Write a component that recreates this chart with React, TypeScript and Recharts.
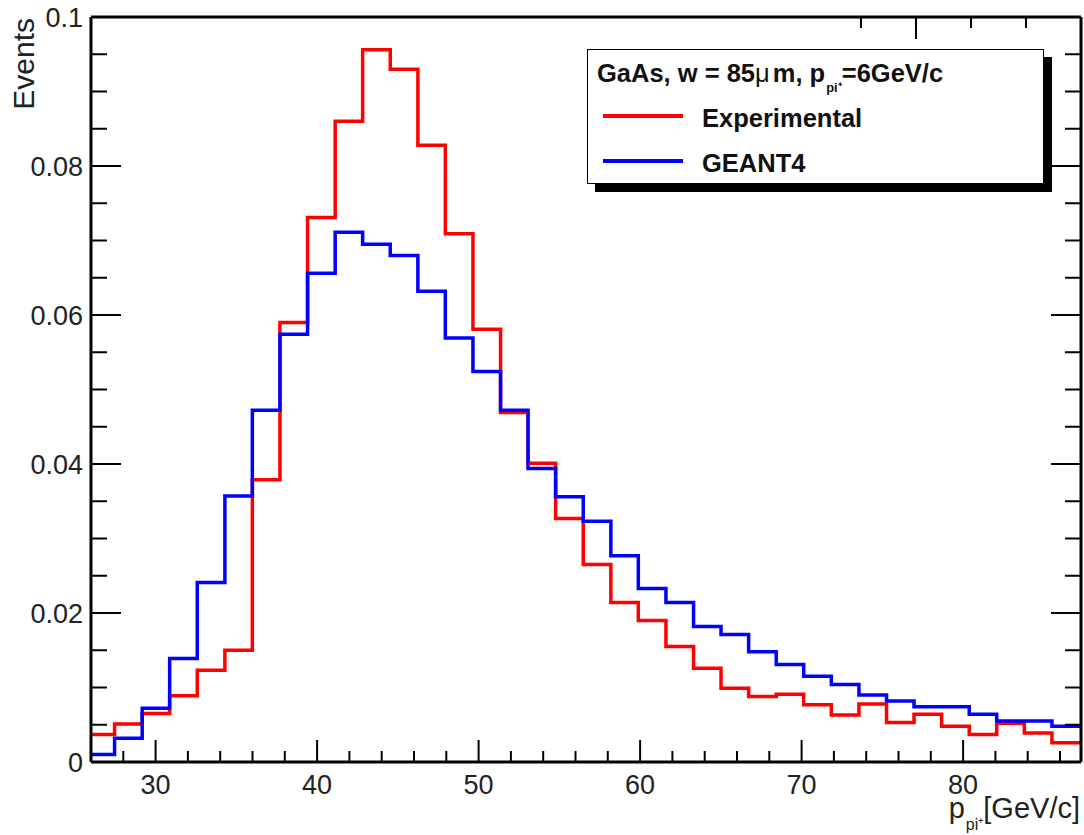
import React from 'react';
import { LineChart, Line, XAxis, YAxis, Legend } from 'recharts';

const binLowEdges = [
  26, 27.46, 29.17, 30.87, 32.58, 34.29, 35.99, 37.7, 39.41, 41.12, 42.82, 44.53,
  46.24, 47.94, 49.65, 51.36, 53.06, 54.77, 56.48, 58.19, 59.89, 61.6, 63.31, 65.01,
  66.72, 68.43, 70.13, 71.84, 73.55, 75.26, 76.96, 78.67, 80.38, 82.08, 83.79, 85.5,
];
const xEnd = 87.3;

const experimental = [
  0.0037, 0.0051, 0.0065, 0.0089, 0.0123, 0.015, 0.0379, 0.059, 0.0731, 0.086, 0.0956, 0.093,
  0.0828, 0.0709, 0.0581, 0.0469, 0.0401, 0.0327, 0.0265, 0.0214, 0.019, 0.0155, 0.0126, 0.0099,
  0.0088, 0.0091, 0.0077, 0.0063, 0.0078, 0.0053, 0.0064, 0.0048, 0.0037, 0.0052, 0.0039, 0.0026,
];
const geant4 = [
  0.001, 0.0032, 0.0072, 0.0139, 0.0241, 0.0357, 0.0472, 0.0574, 0.0656, 0.0711, 0.0695, 0.068,
  0.0632, 0.0569, 0.0524, 0.0472, 0.0394, 0.0356, 0.0323, 0.0277, 0.0233, 0.0214, 0.0182, 0.0171,
  0.0148, 0.0131, 0.0115, 0.0104, 0.009, 0.0082, 0.0074, 0.0074, 0.0064, 0.0055, 0.0055, 0.0048,
];

const xTicks = [28, 30, 32, 34, 36, 38, 40, 42, 44, 46, 48, 50, 52, 54, 56, 58, 60, 62, 64, 66, 68, 70, 72, 74, 76, 78, 80, 82, 84, 86];
const xMajorTicks = [30, 40, 50, 60, 70, 80];
const yTicks = [0, 0.005, 0.01, 0.015, 0.02, 0.025, 0.03, 0.035, 0.04, 0.045, 0.05, 0.055, 0.06, 0.065, 0.07, 0.075, 0.08, 0.085, 0.09, 0.095, 0.1];
const yMajorTicks = [0, 0.02, 0.04, 0.06, 0.08, 0.1];
const yTickLabels = ['0', '0.02', '0.04', '0.06', '0.08', '0.1'];

const seriesNames = ['Experimental', 'GEANT4'];
const seriesColors = ['#ff0000', '#0000ff'];

const data = [
  ...binLowEdges.map((x, i) => ({ x, exp: experimental[i], g4: geant4[i] })),
  { x: xEnd, exp: experimental[experimental.length - 1], g4: geant4[geant4.length - 1] },
];

const FONT = '"Liberation Sans", Arial, Helvetica, sans-serif';

const isMajorX = (v: number) => xMajorTicks.some((m) => Math.abs(m - v) < 1e-6);
const majorYIndex = (v: number) => yMajorTicks.findIndex((m) => Math.abs(m - v) < 1e-9);

const BottomTick = (props: any) => {
  const { x, y, payload } = props;
  const major = isMajorX(payload.value);
  return (
    <g>
      <line x1={x} x2={x} y1={y} y2={y - (major ? 22 : 11)} stroke="#000" strokeWidth={2} />
      {major && (
        <text x={x} y={y + 32} textAnchor="middle" fontFamily={FONT} fontSize={27} fill="#222">
          {payload.value}
        </text>
      )}
    </g>
  );
};

const TopTick = (props: any) => {
  const { x, y, payload } = props;
  const major = isMajorX(payload.value);
  return <line x1={x} x2={x} y1={y} y2={y + (major ? 22 : 11)} stroke="#000" strokeWidth={2} />;
};

const LeftTick = (props: any) => {
  const { x, y, payload } = props;
  const mi = majorYIndex(payload.value);
  const major = mi >= 0;
  return (
    <g>
      <line x1={x} x2={x + (major ? 30 : 16)} y1={y} y2={y} stroke="#000" strokeWidth={2} />
      {major && (
        <text x={x - 8} y={y + 10} textAnchor="end" fontFamily={FONT} fontSize={27} fill="#222">
          {yTickLabels[mi]}
        </text>
      )}
    </g>
  );
};

const RightTick = (props: any) => {
  const { x, y, payload } = props;
  const major = majorYIndex(payload.value) >= 0;
  return <line x1={x} x2={x - (major ? 30 : 16)} y1={y} y2={y} stroke="#000" strokeWidth={2} />;
};

const LegendBox = () => (
  <div
    style={{
      position: 'relative',
      width: 457,
      height: 135,
      boxSizing: 'border-box',
      border: '1.5px solid #000',
      background: '#fff',
      boxShadow: '8px 8px 0 #000',
      fontFamily: FONT,
      color: '#111',
    }}
  >
    <div style={{ position: 'absolute', left: 9, top: 8, fontSize: 25.5, fontWeight: 'bold', whiteSpace: 'nowrap', lineHeight: '30px' }}>
      GaAs, w = 85<span style={{ fontWeight: 'normal', marginRight: 3 }}>μ</span>m, p
      <sub style={{ fontSize: 13, verticalAlign: 'baseline', position: 'relative', top: 10, marginLeft: 1 }}>pi⁺</sub>=6GeV/c
    </div>
    {seriesNames.map((name, i) => (
      <div key={name} style={{ position: 'absolute', left: 0, top: 51 + i * 45, width: '100%', height: 30 }}>
        <div style={{ position: 'absolute', left: 15, top: 13, width: 80, height: 4, background: seriesColors[i] }} />
        <div style={{ position: 'absolute', left: 114, top: 2, fontSize: 25.5, fontWeight: 'bold', lineHeight: '30px', whiteSpace: 'nowrap' }}>
          {name}
        </div>
      </div>
    ))}
  </div>
);

export default function App() {
  return (
    <div style={{ position: 'absolute', left: 0, top: 0, width: 1084, height: 835, background: '#fff' }}>
      <LineChart
        width={1084}
        height={835}
        data={data}
        margin={{ top: 16, right: 2, bottom: 33, left: 31 }}
      >
        <XAxis
          xAxisId="bottom"
          dataKey="x"
          type="number"
          domain={[26, xEnd]}
          ticks={xTicks}
          interval={0}
          height={40}
          tickSize={0}
          tickMargin={0}
          tick={<BottomTick />}
          axisLine={{ stroke: '#000', strokeWidth: 3 }}
          tickLine={false}
          allowDataOverflow
          label={{
            content: () => (
              <text x={1080} y={818} textAnchor="end" fontFamily={FONT} fontSize={29} fill="#222">
                p
                <tspan fontSize={16} dy={12} dx={1}>pi⁺</tspan>
                <tspan dy={-12}>[GeV/c]</tspan>
              </text>
            ),
          }}
        />
        <XAxis
          xAxisId="top"
          orientation="top"
          type="number"
          domain={[26, xEnd]}
          ticks={xTicks}
          interval={0}
          height={1}
          tickSize={0}
          tickMargin={0}
          tick={<TopTick />}
          axisLine={{ stroke: '#000', strokeWidth: 3 }}
          tickLine={false}
          allowDataOverflow
        />
        <YAxis
          yAxisId="left"
          type="number"
          domain={[0, 0.1]}
          ticks={yTicks}
          interval={0}
          width={60}
          tickSize={0}
          tickMargin={0}
          tick={<LeftTick />}
          axisLine={{ stroke: '#000', strokeWidth: 3 }}
          tickLine={false}
          allowDataOverflow
          label={{
            content: () => (
              <text x={34} y={18} transform="rotate(-90 34 18)" textAnchor="end" fontFamily={FONT} fontSize={30} fill="#222">
                Events
              </text>
            ),
          }}
        />
        <YAxis
          yAxisId="right"
          orientation="right"
          type="number"
          domain={[0, 0.1]}
          ticks={yTicks}
          interval={0}
          width={1}
          tickSize={0}
          tickMargin={0}
          tick={<RightTick />}
          axisLine={{ stroke: '#000', strokeWidth: 3 }}
          tickLine={false}
          allowDataOverflow
        />
        <Line
          xAxisId="bottom"
          yAxisId="left"
          dataKey="exp"
          name={seriesNames[0]}
          type="stepAfter"
          stroke={seriesColors[0]}
          strokeWidth={3.5}
          dot={false}
          isAnimationActive={false}
        />
        <Line
          xAxisId="bottom"
          yAxisId="left"
          dataKey="g4"
          name={seriesNames[1]}
          type="stepAfter"
          stroke={seriesColors[1]}
          strokeWidth={3.5}
          dot={false}
          isAnimationActive={false}
        />
        <Legend
          layout="vertical"
          align="center"
          verticalAlign="middle"
          content={<LegendBox />}
          wrapperStyle={{ position: 'absolute', left: 587, top: 49, width: 457, height: 135 }}
        />
      </LineChart>
    </div>
  );
}
